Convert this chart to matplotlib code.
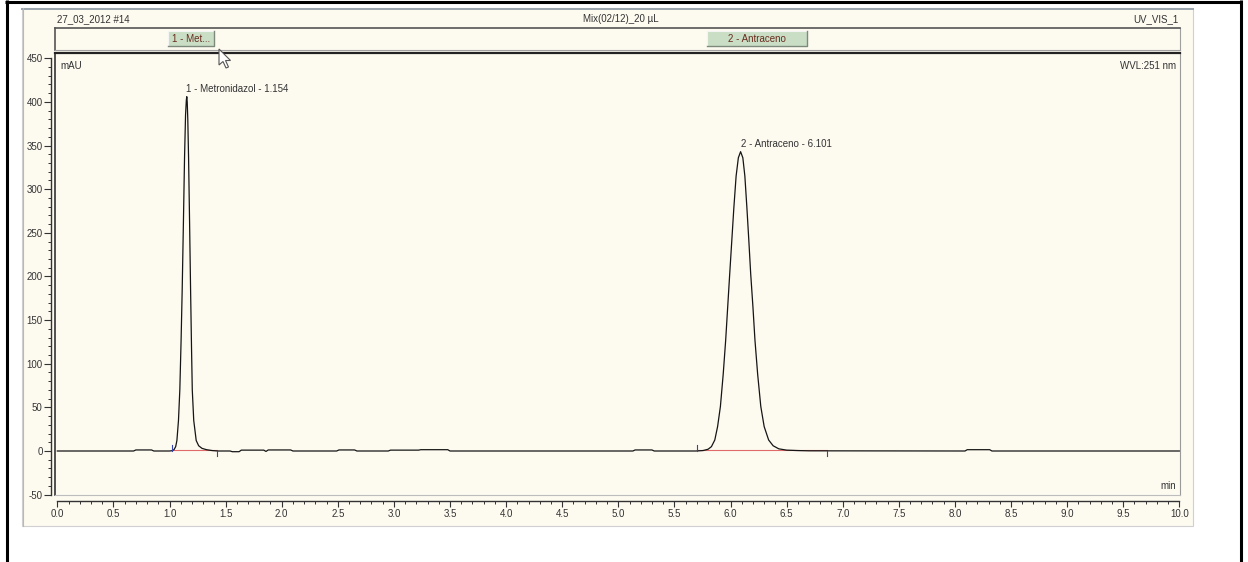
"""Chromeleon-style chromatogram: Mix(02/12)_20 uL, UV_VIS_1 at 251 nm."""

import matplotlib

matplotlib.use("Agg")
import matplotlib.pyplot as plt  # noqa: E402
from matplotlib.patches import Rectangle, Polygon  # noqa: E402
from matplotlib.ticker import MultipleLocator  # noqa: E402

plt.rcParams["font.family"] = ["Liberation Sans", "DejaVu Sans"]
plt.rcParams["axes.unicode_minus"] = False

W, H = 1248, 562

# Detector trace (retention time in min, signal in mAU).
TRACE_MIN = [
    0.00, 0.68, 0.70, 0.84, 0.86, 1.00,
    1.02, 1.04, 1.055, 1.066, 1.08, 1.092, 1.103, 1.113, 1.124, 1.134, 1.143,
    1.150, 1.154, 1.158, 1.163, 1.170, 1.179, 1.188, 1.196, 1.203, 1.216,
    1.238, 1.26, 1.29, 1.33, 1.38, 1.43,
    1.54, 1.56, 1.62, 1.64, 1.84, 1.86, 1.88, 2.08, 2.10,
    2.49, 2.51, 2.65, 2.67,
    2.95, 2.97, 3.22, 3.24, 3.48, 3.50,
    5.13, 5.15, 5.30, 5.32,
    5.69, 5.755, 5.80, 5.83, 5.86, 5.885, 5.91, 5.935, 5.957, 5.975, 5.993,
    6.012, 6.03, 6.05, 6.07, 6.09, 6.11, 6.128, 6.146, 6.163, 6.18, 6.20,
    6.218, 6.242, 6.27, 6.30, 6.34, 6.38, 6.43, 6.50, 6.60, 6.70,
    8.09, 8.11, 8.31, 8.33, 10.00,
]
TRACE_MAU = [
    0, 0, 1.2, 1.2, 0, 0,
    0.3, 1.5, 5, 12, 35, 70, 125, 184, 262, 336, 385,
    402, 406, 400, 380, 336, 262, 184, 120, 70, 35,
    12, 6, 3, 1.5, 0.5, 0,
    0, -0.8, -0.8, 1.0, 1.0, -0.5, 1.2, 1.2, 0,
    0, 1.2, 1.2, 0,
    0, 1.0, 1.0, 1.5, 1.5, 0,
    0, 1.2, 1.2, 0,
    0, 0.5, 2, 5, 12.6, 28, 51, 88, 127, 165, 203,
    242, 279, 315, 336, 343, 336, 315, 279, 242, 203, 165,
    127, 88, 51, 28, 12.6, 6, 2.5, 1, 0.5, 0.2,
    0, 1.5, 1.5, 0, 0,
]

PEAK_NAMES = ["Metronidazol", "Antraceno"]
PEAK_SHORT = ["1 - Met...", "2 - Antraceno"]
PEAK_RT = [1.154, 6.101]
PEAK_APEX_MIN = [1.146, 6.093]
PEAK_APEX_MAU = [406, 343]
INTEG_START = [1.02, 5.70]
INTEG_END = [1.42, 6.86]

X_RANGE = (0.0, 10.0)
Y_RANGE = (-50, 450)

CREAM = "#FDFAF0"
TEXT = "#333333"
FS = 7

# Pixel geometry of the screenshot axes.
X0_PX, PX_PER_MIN = 57.3, 112.2
Y0_PX, PX_PER_MAU = 451.0, 0.8727
BOX = (55, 53, 1180, 495)


def box(x0, y0, x1, y1):
    return [x0 / W, 1 - y1 / H, (x1 - x0) / W, (y1 - y0) / H]


def px_to_min(x):
    return (x - X0_PX) / PX_PER_MIN


def px_to_mau(y):
    return (Y0_PX - y) / PX_PER_MAU


fig = plt.figure(figsize=(W / 100, H / 100), dpi=100, facecolor="white")

# --- background window ---------------------------------------------------
bg = fig.add_axes([0, 0, 1, 1])
bg.set_xlim(0, W)
bg.set_ylim(H, 0)
bg.axis("off")
bg.add_patch(Rectangle((22, 8), 1171, 518, fc=CREAM, ec="#d0d0d0", lw=0.8))
bg.plot([22, 1193], [8.8, 8.8], color="#9aa4ae", lw=1.4)
bg.plot([22.5, 22.5], [8, 526], color="#b8b8b8", lw=0.8)
for xs, ys in (([6.5, 6.5], [0, H]), ([1240.5, 1240.5], [0, H]),
               ([5, 1242], [1.5, 1.5])):
    bg.plot(xs, ys, color="black", lw=2.2, solid_capstyle="butt")

bg.text(57, 19.5, "27_03_2012 #14", fontsize=FS, color=TEXT, va="center")
bg.text(621, 19.5, "Mix(02/12)_20 µL", fontsize=FS, color=TEXT,
        va="center", ha="center")
bg.text(1178, 19.5, "UV_VIS_1", fontsize=FS, color=TEXT, va="center",
        ha="right")

# --- peak button strip ---------------------------------------------------
hdr = fig.add_axes(box(55, 28, 1180, 50))
hdr.set_facecolor(CREAM)
hdr.set_xticks([])
hdr.set_yticks([])
for side, col, lw in (("top", "#555555", 1.2), ("left", "#555555", 1.2),
                      ("right", "#a0a0a0", 0.8), ("bottom", "#a0a0a0", 0.8)):
    hdr.spines[side].set_color(col)
    hdr.spines[side].set_linewidth(lw)

# --- main plot box -------------------------------------------------------
ax = fig.add_axes(box(*BOX))
ax.set_facecolor(CREAM)
ax.set_xlim(px_to_min(BOX[0]), px_to_min(BOX[2]))
ax.set_ylim(px_to_mau(BOX[3]), px_to_mau(BOX[1]))
ax.set_xticks([])
ax.set_yticks([])
for side, col, lw in (("top", "#222222", 1.6), ("left", "#333333", 1.2),
                      ("right", "#9a9a9a", 0.8), ("bottom", "#bdbdbd", 0.8)):
    ax.spines[side].set_color(col)
    ax.spines[side].set_linewidth(lw)

ax.plot(TRACE_MIN, TRACE_MAU, color="#151515", lw=0.9, zorder=3)
for s, e in zip(INTEG_START, INTEG_END):
    ax.plot([s, e], [1.0, 1.0], color="#e06a6a", lw=0.8, zorder=2)
    ax.plot([s, s], [0, 7], color="#3344b0", lw=0.8, zorder=4)
    ax.plot([e, e], [0, -6], color="#3a4a80", lw=0.8, zorder=4)

for i, (name, rt, tx, ty) in enumerate(zip(PEAK_NAMES, PEAK_RT,
                                           PEAK_APEX_MIN, PEAK_APEX_MAU)):
    ax.annotate(f"{i + 1} - {name} - {rt:.3f}", xy=(tx, ty),
                xytext=(0, 2.0), textcoords="offset points",
                fontsize=FS, color=TEXT, ha="left", va="bottom")

# --- y axis (separate line left of the box) ------------------------------
ay = fig.add_axes(box(51, BOX[1], 51.01, BOX[3]))
ay.patch.set_visible(False)
ay.set_ylim(ax.get_ylim())
ay.set_xticks([])
for side in ("top", "right", "bottom"):
    ay.spines[side].set_visible(False)
ay.spines["left"].set_bounds(*Y_RANGE)
ay.spines["left"].set_color("#333333")
ay.spines["left"].set_linewidth(1.0)
ay.yaxis.set_major_locator(MultipleLocator(50))
ay.yaxis.set_minor_locator(MultipleLocator(10))
ay.tick_params(axis="y", which="major", direction="out", length=5,
               width=0.8, colors="#333333", labelsize=FS, pad=1.0)
ay.tick_params(axis="y", which="minor", direction="out", length=2.2,
               width=0.7, colors="#333333")

# --- x axis (separate line under the box) --------------------------------
axx = fig.add_axes(box(BOX[0], 500.99, BOX[2], 501))
axx.patch.set_visible(False)
axx.set_xlim(ax.get_xlim())
axx.set_yticks([])
for side in ("top", "right", "left"):
    axx.spines[side].set_visible(False)
axx.spines["bottom"].set_bounds(*X_RANGE)
axx.spines["bottom"].set_color("#333333")
axx.spines["bottom"].set_linewidth(1.0)
axx.xaxis.set_major_locator(MultipleLocator(0.5))
axx.xaxis.set_minor_locator(MultipleLocator(0.1))
axx.xaxis.set_major_formatter(lambda v, _: f"{v:.1f}")
axx.tick_params(axis="x", which="major", direction="out", length=4,
                width=0.8, colors="#333333", labelsize=FS, pad=1.5)
axx.tick_params(axis="x", which="minor", direction="out", length=2,
                width=0.7, colors="#333333")

# --- overlay: labels, peak buttons, mouse cursor -------------------------
fg = fig.add_axes([0, 0, 1, 1])
fg.set_xlim(0, W)
fg.set_ylim(H, 0)
fg.axis("off")
fg.patch.set_visible(False)

fg.text(60, 66, "mAU", fontsize=FS, color=TEXT, va="center")
fg.text(1176, 66, "WVL:251 nm", fontsize=FS, color=TEXT, va="center",
        ha="right")
fg.text(1176, 486, "min", fontsize=FS, color=TEXT, va="center", ha="right")

for label, (bx, bw) in zip(PEAK_SHORT, ((168, 46), (707, 100))):
    fg.add_patch(Rectangle((bx, 31), bw, 15, fc="#C9DEC5", ec="#f4f4f4",
                           lw=0.8))
    fg.plot([bx, bx + bw, bx + bw], [46, 46, 31], color="#7d8a7b", lw=1.0)
    fg.text(bx + bw / 2, 38.8, label, fontsize=FS, color="#6a2c1e",
            ha="center", va="center")

tip_x, tip_y = 219, 49
arrow = [(0, 0), (0, 16), (4, 12.5), (7, 19), (9.5, 18), (6.5, 11.5),
         (11.5, 11.5)]
fg.add_patch(Polygon([(tip_x + dx, tip_y + dy) for dx, dy in arrow],
                     closed=True, fc="white", ec="#555555", lw=0.8))

fig.savefig("out.png", dpi=100)
